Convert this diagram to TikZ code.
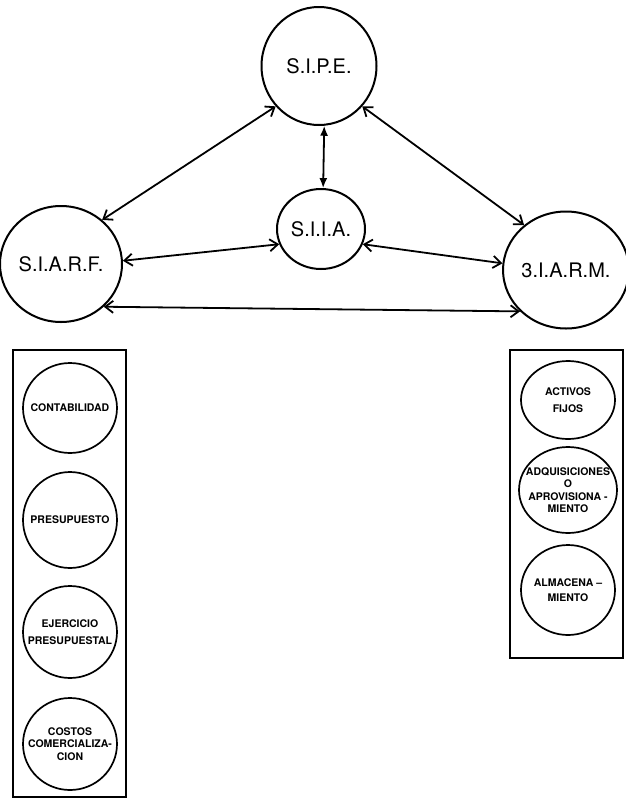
\documentclass[tikz,border=0pt]{standalone}
\usepackage{fontspec}
\setmainfont{TeX Gyre Heros}
\usetikzlibrary{shapes.geometric,arrows.meta}
\tikzset{
  bigsys/.style={draw, ellipse, line width=2pt, inner sep=0pt,
    font=\fontsize{20}{23}\selectfont},
  subsys/.style={draw, ellipse, line width=1.7pt, inner sep=-16pt, align=center,
    font=\bfseries\fontsize{10.5}{12.5}\selectfont},
  group/.style={draw, line width=1.7pt, inner sep=0pt},
  barb/.tip={Straight Barb[length=8pt,width=12pt,line width=1.8pt]},
  solidtip/.tip={Latex[length=10pt,width=8pt]},
  link/.style={line width=1.8pt, barb-barb},
  vlink/.style={line width=1.8pt, solidtip-solidtip},
}
\begin{document}
\begin{tikzpicture}[x=1pt,y=-1pt]
\useasboundingbox (0,0) rectangle (625,801);

% main subsystems
\node[bigsys, minimum width=115, minimum height=118] (sipe)  at (319,66)  {S.I.P.E.};
\node[bigsys, minimum width=88,  minimum height=80]  (siia)  at (321,229) {S.I.I.A.};
\node[bigsys, minimum width=122, minimum height=116] (siarf) at (61,264)  {S.I.A.R.F.};
\node[bigsys, minimum width=116, minimum height=117] (siarm) at (566,270) {3.I.A.R.M.};

% links between subsystems
\draw[link]  (sipe.223) -- (siarf.47);
\draw[vlink] (sipe.-85) -- (siia.87);
\draw[link]  (sipe.-43) -- (siarm.133);
\draw[link]  (siarf.3) -- (siia.200);
\draw[link]  (siia.-20) -- (siarm.174);
\draw[link]  (siarf.-45) -- (siarm.222);

% left group
\node[group, minimum width=113, minimum height=447] (lbox) at (69.5,573.5) {};
\node[subsys, minimum width=94, minimum height=90] (cont) at (70,408) {CONTABILIDAD};
\node[subsys, minimum width=94, minimum height=96] (pres) at (70,520) {PRESUPUESTO};
\node[subsys, minimum width=94, minimum height=92] (ejer) at (70,632) {EJERCICIO\\[4pt]PRESUPUESTAL};
\node[subsys, minimum width=94, minimum height=92] (cost) at (70,744) {COSTOS\\COMERCIALIZA-\\CION};

% right group
\node[group, minimum width=113, minimum height=308] (rbox) at (566.5,504) {};
\node[subsys, minimum width=94, minimum height=78] (acti) at (568,400) {ACTIVOS\\[4pt]FIJOS};
\node[subsys, minimum width=98, minimum height=86] (adqu) at (568,490) {ADQUISICIONES\\O\\APROVISIONA -\\MIENTO};
\node[subsys, minimum width=94, minimum height=90] (alma) at (568,590) {ALMACENA --\\[3pt]MIENTO};
\end{tikzpicture}
\end{document}
